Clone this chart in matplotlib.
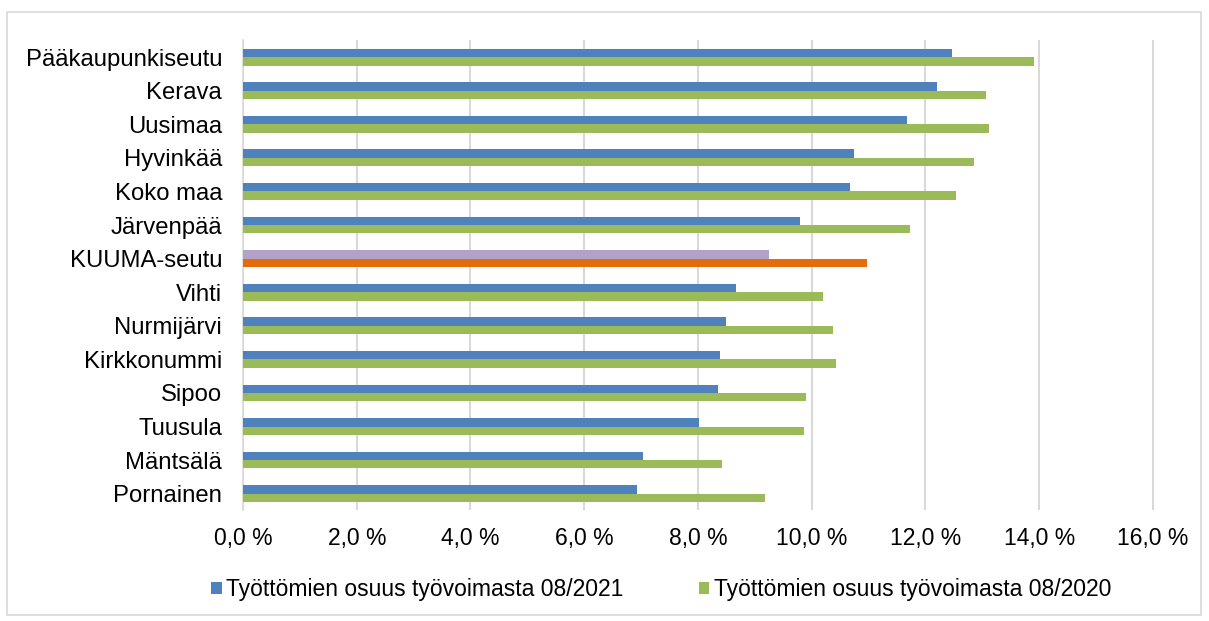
import numpy as np
import matplotlib.pyplot as plt
from matplotlib.patches import Rectangle
from matplotlib.ticker import FuncFormatter

alueet = ["Pääkaupunkiseutu", "Kerava", "Uusimaa", "Hyvinkää", "Koko maa",
          "Järvenpää", "KUUMA-seutu", "Vihti", "Nurmijärvi", "Kirkkonummi",
          "Sipoo", "Tuusula", "Mäntsälä", "Pornainen"]
osuus_2021 = [12.46, 12.20, 11.68, 10.75, 10.68, 9.79, 9.24, 8.66, 8.50,
              8.38, 8.36, 8.01, 7.04, 6.93]
osuus_2020 = [13.90, 13.06, 13.11, 12.86, 12.53, 11.73, 10.97, 10.19, 10.37,
              10.43, 9.90, 9.87, 8.42, 9.18]
nimi_2021 = "Työttömien osuus työvoimasta 08/2021"
nimi_2020 = "Työttömien osuus työvoimasta 08/2020"

sininen = "#4F81BD"
vihrea = "#9BBB59"
violetti = "#B3A2C7"
oranssi = "#E46C0A"

plt.rcParams['font.family'] = ['Liberation Sans', 'DejaVu Sans']

fig = plt.figure(figsize=(12.09, 6.21), dpi=100)
fig.patches.append(Rectangle((0.006, 0.01), 0.987, 0.97, transform=fig.transFigure,
                             fill=False, edgecolor="#d9d9d9", linewidth=1.2))
ax = fig.add_axes([0.201, 0.178, 0.755, 0.757])

y = np.arange(len(alueet))
h = 0.25
kuuma = alueet.index("KUUMA-seutu")
varit_21 = [violetti if i == kuuma else sininen for i in y]
varit_20 = [oranssi if i == kuuma else vihrea for i in y]

ax.barh(y - h / 2, osuus_2021, height=h, color=varit_21, label=nimi_2021, zorder=3)
ax.barh(y + h / 2, osuus_2020, height=h, color=varit_20, label=nimi_2020, zorder=3)

ax.set_xlim(0, 16.05)
ax.set_ylim(len(alueet) - 0.5, -0.5)
ax.set_xticks(np.arange(0, 17, 2))
ax.xaxis.set_major_formatter(FuncFormatter(lambda v, p: f"{v:.1f} %".replace(".", ",")))
ax.set_yticks(y)
ax.set_yticklabels(alueet)
ax.tick_params(axis="both", length=0, labelsize=16.5, colors="black")
ax.tick_params(axis="y", labelsize=17.2, pad=15)
ax.tick_params(axis="x", pad=12)
ax.grid(axis="x", color="#d9d9d9", linewidth=1.5, zorder=0)
for s in ["top", "right", "bottom"]:
    ax.spines[s].set_visible(False)
ax.spines["left"].set_color("#d9d9d9")
ax.spines["left"].set_linewidth(1.2)

ax.legend(handles=ax.containers[0:1] + ax.containers[1:2], labels=[nimi_2021, nimi_2020],
          loc="center", bbox_to_anchor=(0.547, 0.05), bbox_transform=fig.transFigure,
          ncol=2, frameon=False, fontsize=16.5, handlelength=0.45, handleheight=0.45,
          handletextpad=0.2, columnspacing=3.3)

fig.savefig("out.png", dpi=100)
